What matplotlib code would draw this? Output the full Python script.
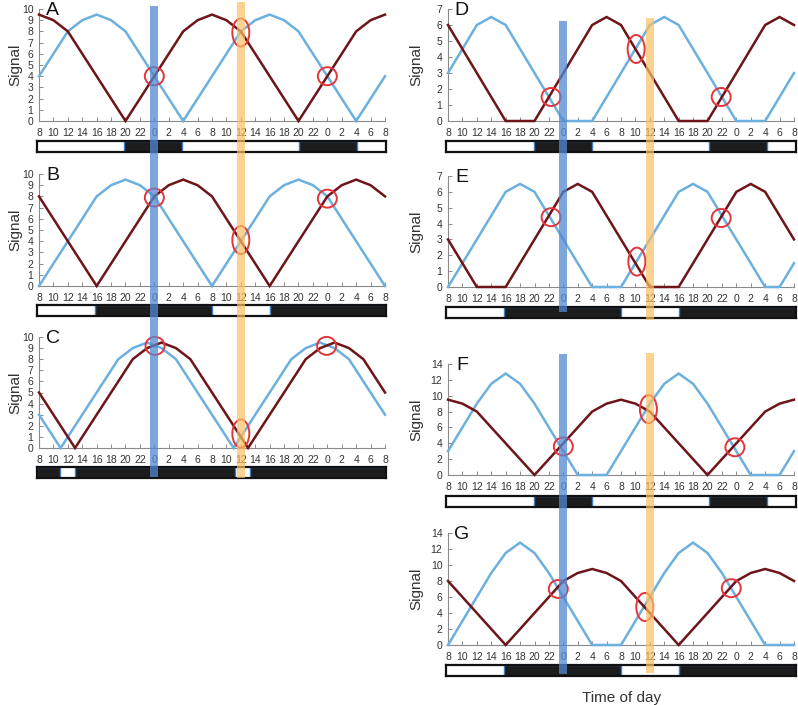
import matplotlib
matplotlib.use("Agg")
import matplotlib.pyplot as plt
from matplotlib.patches import Rectangle, Ellipse

plt.rcParams['font.family'] = ['Liberation Sans', 'DejaVu Sans']

W, H = 798, 705

# ---------------- data ----------------
# hours since 08:00 (x = 0 .. 48)
hours = list(range(0, 49, 2))
tick_labels = ['8', '10', '12', '14', '16', '18', '20', '22', '0', '2', '4', '6',
               '8', '10', '12', '14', '16', '18', '20', '22', '0', '2', '4', '6', '8']

A_blue = [4, 6, 8, 9, 9.5, 9, 8, 6, 4, 2, 0, 2, 4, 6, 8, 9, 9.5, 9, 8, 6, 4, 2, 0, 2, 4]
A_red = [9.5, 9, 8, 6, 4, 2, 0, 2, 4, 6, 8, 9, 9.5, 9, 8, 6, 4, 2, 0, 2, 4, 6, 8, 9, 9.5]

B_blue = [0, 2, 4, 6, 8, 9, 9.5, 9, 8, 6, 4, 2, 0, 2, 4, 6, 8, 9, 9.5, 9, 8, 6, 4, 2, 0]
B_red = [8, 6, 4, 2, 0, 2, 4, 6, 8, 9, 9.5, 9, 8, 6, 4, 2, 0, 2, 4, 6, 8, 9, 9.5, 9, 8]

C_blue_x = [0, 3, 11, 13, 15, 17, 19, 27, 35, 37, 39, 41, 43, 48]
C_blue = [3, 0, 8, 9, 9.5, 9, 8, 0, 8, 9, 9.5, 9, 8, 3]
C_red_x = [0, 5, 13, 15, 17, 19, 21, 29, 37, 39, 41, 43, 45, 48]
C_red = [5, 0, 8, 9, 9.5, 9, 8, 0, 8, 9, 9.5, 9, 8, 5]

D_blue = [3, 4.5, 6, 6.5, 6, 4.5, 3, 1.5, 0, 0, 0, 1.5, 3, 4.5, 6, 6.5, 6, 4.5, 3, 1.5, 0, 0, 0, 1.5, 3]
D_red = [6, 4.5, 3, 1.5, 0, 0, 0, 1.5, 3, 4.5, 6, 6.5, 6, 4.5, 3, 1.5, 0, 0, 0, 1.5, 3, 4.5, 6, 6.5, 6]

E_blue = [0, 1.5, 3, 4.5, 6, 6.5, 6, 4.5, 3, 1.5, 0, 0, 0, 1.5, 3, 4.5, 6, 6.5, 6, 4.5, 3, 1.5, 0, 0, 1.5]
E_red = [3, 1.5, 0, 0, 0, 1.5, 3, 4.5, 6, 6.5, 6, 4.5, 3, 1.5, 0, 0, 0, 1.5, 3, 4.5, 6, 6.5, 6, 4.5, 3]

F_blue = [3, 6, 9, 11.5, 12.8, 11.5, 9, 6, 3, 0, 0, 0, 3, 6, 9, 11.5, 12.8, 11.5, 9, 6, 3, 0, 0, 0, 3]
F_red = [9.5, 9, 8, 6, 4, 2, 0, 2, 4, 6, 8, 9, 9.5, 9, 8, 6, 4, 2, 0, 2, 4, 6, 8, 9, 9.5]

G_blue = [0, 3, 6, 9, 11.5, 12.8, 11.5, 9, 6, 3, 0, 0, 0, 3, 6, 9, 11.5, 12.8, 11.5, 9, 6, 3, 0, 0, 0]
G_red = [8, 6, 4, 2, 0, 2, 4, 6, 8, 9, 9.5, 9, 8, 6, 4, 2, 0, 2, 4, 6, 8, 9, 9.5, 9, 8]

# dark periods (hours since 08:00)
dark_A = [(12, 20), (36, 44)]
dark_B = [(8, 24), (32, 48)]
dark_C = [(0, 3.2), (5.2, 27.3), (29.3, 48)]
dark_D = [(12, 20), (36, 44)]
dark_E = [(8, 24), (32, 48)]
dark_F = [(12, 20), (36, 44)]
dark_G = [(8, 24), (32, 48)]

# crossing markers: (hour, signal, tall)
marks_A = [(16, 4, False), (28, 7.9, True), (40, 4, False)]
marks_B = [(16, 7.9, False), (28, 4.1, True), (40, 7.8, False)]
marks_C = [(16.1, 9.2, False), (28, 1.3, True), (39.9, 9.2, False)]
marks_D = [(14.3, 1.5, False), (26.1, 4.5, True), (37.9, 1.5, False)]
marks_E = [(14.3, 4.4, False), (26.2, 1.6, True), (37.9, 4.35, False)]
marks_F = [(16.0, 3.6, False), (27.8, 8.3, True), (39.8, 3.5, False)]
marks_G = [(15.3, 7.0, False), (27.3, 4.75, True), (39.3, 7.1, False)]

blue_phase_hour = 16   # 0:00
orange_phase_hour = 28  # 12:00

# ---------------- style ----------------
BLUE = '#6cb0e0'
RED = '#6e1519'
CIRC = '#e3353b'
AXC = '#8a8a8a'
TXT = '#333333'

fig = plt.figure(figsize=(W / 100, H / 100), dpi=100)


def fr(x0, y0, x1, y1):
    return [x0 / W, 1 - y1 / H, (x1 - x0) / W, (y1 - y0) / H]


panels = [
    # letter, axes px box, bar px box, ymax, ystep, bx, blue, rx, red, dark, marks
    ('A', (39, 9, 385, 121), (37, 141, 386, 152), 10, 1, hours, A_blue, hours, A_red, dark_A, marks_A),
    ('B', (39, 174, 385, 286), (37, 305, 386, 316), 10, 1, hours, B_blue, hours, B_red, dark_B, marks_B),
    ('C', (39, 337, 385, 448), (37, 467, 386, 478), 10, 1, C_blue_x, C_blue, C_red_x, C_red, dark_C, marks_C),
    ('D', (448, 9, 794, 121), (446, 141, 796, 152), 7, 1, hours, D_blue, hours, D_red, dark_D, marks_D),
    ('E', (448, 176, 794, 287), (446, 307, 796, 318), 7, 1, hours, E_blue, hours, E_red, dark_E, marks_E),
    ('F', (448, 364, 794, 475), (446, 496, 796, 507), 14, 2, hours, F_blue, hours, F_red, dark_F, marks_F),
    ('G', (448, 533, 794, 645), (446, 665, 796, 676), 14, 2, hours, G_blue, hours, G_red, dark_G, marks_G),
]

axes = {}
for (let, abox, bbox, ymax, ystep, bx, by, rx, ry, dark, marks) in panels:
    ax = fig.add_axes(fr(*abox))
    axes[let] = ax
    ax.set_xlim(0, 48)
    ax.set_ylim(0, ymax)
    ax.plot(bx, by, color=BLUE, lw=1.8, clip_on=False, zorder=3, solid_joinstyle='miter')
    ax.plot(rx, ry, color=RED, lw=1.8, clip_on=False, zorder=4, solid_joinstyle='miter')
    for s in ('top', 'right'):
        ax.spines[s].set_visible(False)
    for s in ('left', 'bottom'):
        ax.spines[s].set_color(AXC)
        ax.spines[s].set_linewidth(0.8)
    ax.set_xticks(hours)
    ax.set_xticklabels(tick_labels)
    ax.set_yticks(list(range(0, ymax + 1, ystep)))
    ax.tick_params(axis='both', direction='in', length=3, width=0.7, color=AXC,
                   labelsize=7.5, labelcolor=TXT)
    ax.tick_params(axis='x', pad=5)
    ax.tick_params(axis='y', pad=4)
    ax.set_facecolor('none')
    ax.text(0.04, 0.985, let, transform=ax.transAxes, fontsize=14, color='#111111',
            ha='center', va='center')
    # crossing ellipses (sizes in pixels)
    wpx = abox[2] - abox[0]
    hpx = abox[3] - abox[1]
    for (mx, my, tall) in marks:
        ew, eh = (17, 28) if tall else (19, 18)
        ax.add_patch(Ellipse((mx, my), ew * 48 / wpx, eh * ymax / hpx, fill=False,
                             edgecolor=CIRC, lw=1.4, zorder=6, clip_on=False))
    # Signal label
    xl = 15 if abox[0] < 200 else 416
    yc = (abox[1] + abox[3]) / 2
    fig.text(xl / W, 1 - yc / H, 'Signal', rotation=90, fontsize=11, color=TXT,
             ha='center', va='center')
    # light/dark bar
    bax = fig.add_axes(fr(*bbox))
    bax.set_xlim(0, 48)
    bax.set_ylim(0, 1)
    bax.set_xticks([])
    bax.set_yticks([])
    for s in bax.spines.values():
        s.set_linewidth(1.6)
        s.set_color('#111111')
    for (d0, d1) in dark:
        bax.add_patch(Rectangle((d0, 0), d1 - d0, 1, facecolor='#1c1c1c',
                                edgecolor='#3d7cc0', lw=1.0))

fig.text(622 / W, 1 - 698 / H, 'Time of day', fontsize=11, color=TXT, ha='center', va='center')

# phase bands spanning panel groups
fig.canvas.draw()


def band(ax, hour, y_top_px, y_bot_px, color, alpha):
    xpx = ax.transData.transform((hour, 0))[0]
    wpx = 8
    fig.patches.append(Rectangle(((xpx - wpx / 2) / W, 1 - y_bot_px / H), wpx / W,
                                 (y_bot_px - y_top_px) / H, transform=fig.transFigure,
                                 facecolor=color, edgecolor='none', alpha=alpha, zorder=10))


band(axes['A'], blue_phase_hour, 6, 477, '#5289d2', 0.75)
band(axes['A'], orange_phase_hour, 2, 478, '#fbc064', 0.7)
band(axes['D'], blue_phase_hour, 21, 312, '#5289d2', 0.75)
band(axes['D'], orange_phase_hour, 18, 320, '#fbc064', 0.7)
band(axes['F'], blue_phase_hour, 354, 674, '#5289d2', 0.75)
band(axes['F'], orange_phase_hour, 353, 673, '#fbc064', 0.7)

fig.savefig('out.png', dpi=100)
